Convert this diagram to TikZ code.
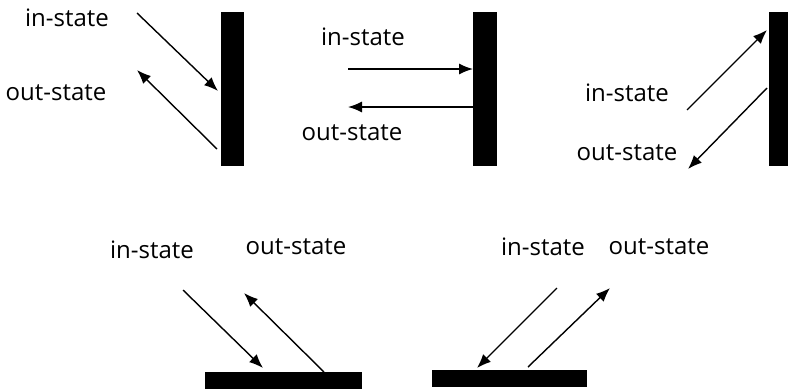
\documentclass[tikz,border=0pt]{standalone}
\usepackage{fontspec}
\setmainfont{Open Sans}
\usetikzlibrary{arrows.meta}

\begin{document}
\begin{tikzpicture}[x=1pt,y=-1pt]
	\tikzstyle{every node}=[font=\fontsize{24}{28}\selectfont, inner sep=0pt];
	\tikzstyle{wall}=[fill=black, draw=none, minimum width=23pt, minimum height=154pt];
	\tikzstyle{floor}=[fill=black, draw=none, minimum width=156pt, minimum height=17pt];
	\tikzstyle{ray}=[line width=1.4pt, -{Latex[length=14pt,width=11pt]}];
	\useasboundingbox (0,0) rectangle (788,389);
	% oblique incidence on a wall, left side
	\node [wall] (w1) at (232.5,89) {};
	\node (in1) at (67,18) {in-state};
	\node (out1) at (56,93) {out-state};
	\coordinate (a1) at (137,13);
	\coordinate (b1) at (218,91);
	\coordinate (c1) at (217,149);
	\coordinate (d1) at (137,70);
	\draw[ray] (a1) -- (b1);
	\draw[ray] (c1) -- (d1);
	% normal incidence
	\node [wall, minimum width=24pt] (w2) at (485,89) {};
	\node (in2) at (363,37) {in-state};
	\node (out2) at (352,133) {out-state};
	\coordinate (a2) at (348,69);
	\coordinate (b2) at (473,69);
	\coordinate (c2) at (473,107);
	\coordinate (d2) at (348,107);
	\draw[ray] (a2) -- (b2);
	\draw[ray] (c2) -- (d2);
	% oblique incidence from below
	\node [wall, minimum width=19pt] (w3) at (778.5,89) {};
	\node (in3) at (627,93) {in-state};
	\node (out3) at (627,153) {out-state};
	\coordinate (a3) at (687,110);
	\coordinate (b3) at (767,30);
	\coordinate (c3) at (767,88);
	\coordinate (d3) at (688,169);
	\draw[ray] (a3) -- (b3);
	\draw[ray] (c3) -- (d3);
	% floors
	\node [floor, minimum width=157pt] (f1) at (283.5,380.5) {};
	\node (in4) at (152,250) {in-state};
	\node (out4) at (296,247) {out-state};
	\coordinate (a4) at (183,290);
	\coordinate (b4) at (263,368);
	\coordinate (c4) at (324,372);
	\coordinate (d4) at (244,293);
	\draw[ray] (a4) -- (b4);
	\draw[ray] (c4) -- (d4);
	\node [floor, minimum width=155pt] (f2) at (509.5,378.5) {};
	\node (in5) at (543,247) {in-state};
	\node (out5) at (659,247) {out-state};
	\coordinate (a5) at (557,288);
	\coordinate (b5) at (477,368);
	\coordinate (c5) at (528,367);
	\coordinate (d5) at (610,288);
	\draw[ray] (a5) -- (b5);
	\draw[ray] (c5) -- (d5);
\end{tikzpicture}
\end{document}
